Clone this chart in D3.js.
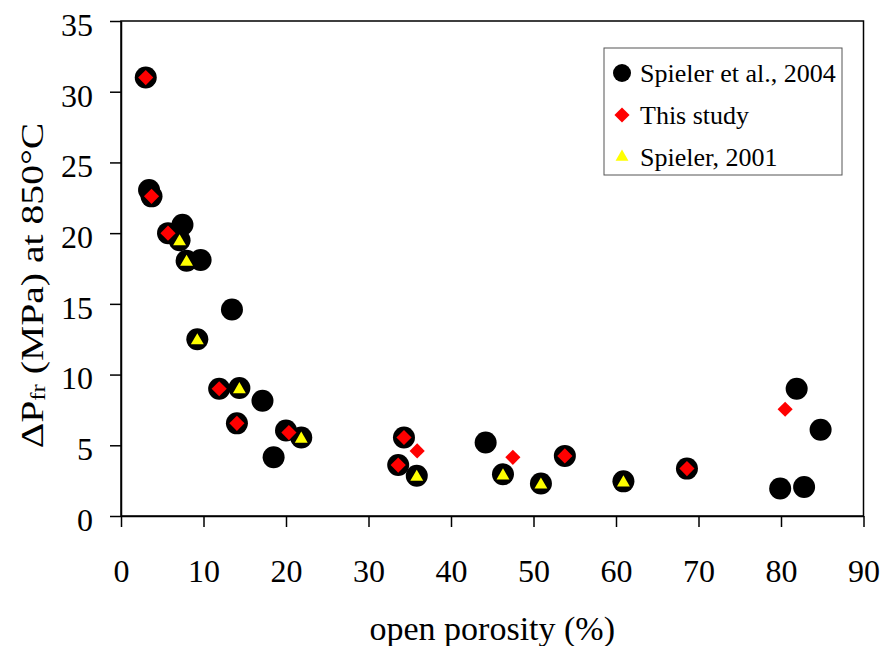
<!DOCTYPE html>
<html>
<head>
    <meta charset="utf-8">
    <script type="text/javascript" src="https://d3js.org/d3.v7.min.js"></script>
    <style>
body { margin: 0; background: #fff; }
text { font-family: "Liberation Serif", "Times New Roman", serif; fill: #000; }
.axis path, .axis line { stroke: #000; stroke-width: 1.5px; }
    </style>
</head>
<body>
	<svg width="884" height="646"></svg>

    <script type="text/javascript">

	// open porosity (%), dPfr (MPa)
	var spieler2004 = [
		[3.0, 31.0], [3.4, 23.05], [3.7, 22.6], [5.7, 20.0], [7.45, 20.6], [7.1, 19.5],
		[7.95, 18.05], [9.65, 18.1], [13.45, 14.6], [9.25, 12.5], [11.9, 9.0], [14.35, 9.05],
		[17.15, 8.15], [14.05, 6.55], [20.0, 6.05], [21.85, 5.55], [18.5, 4.15],
		[34.3, 5.55], [33.6, 3.6], [35.85, 2.85], [44.2, 5.2], [46.3, 2.95], [50.9, 2.3],
		[53.8, 4.25], [60.9, 2.45], [68.6, 3.35], [81.9, 9.0], [84.8, 6.1], [79.9, 1.95], [82.8, 2.05]
	];
	var thisStudy = [
		[3.0, 31.0], [3.7, 22.6], [5.7, 20.0], [11.9, 9.0], [14.05, 6.55], [20.35, 5.9],
		[34.3, 5.55], [35.9, 4.6], [33.6, 3.6], [47.5, 4.15], [53.8, 4.25], [68.6, 3.35], [80.5, 7.55]
	];
	var spieler2001 = [
		[7.1, 19.5], [7.95, 18.05], [9.25, 12.5], [14.35, 9.05], [21.85, 5.55],
		[35.85, 2.85], [46.3, 2.95], [50.9, 2.3], [60.9, 2.45]
	];
	var legendLabels = ["Spieler et al., 2004", "This study", "Spieler, 2001"];
	var xTicks = [0, 10, 20, 30, 40, 50, 60, 70, 80, 90];
	var yTicks = [0, 5, 10, 15, 20, 25, 30, 35];

	var svg = d3.select("svg"),
		margin = {top: 21, right: 20.5, bottom: 130, left: 121},
		width = +svg.attr("width") - margin.left - margin.right,
		height = +svg.attr("height") - margin.top - margin.bottom,
		g = svg.append("g").attr("transform", "translate(" + margin.left + "," + margin.top + ")");

	var x = d3.scaleLinear()
		.domain([0, 90])
		.range([0, width]);

	var y = d3.scaleLinear()
		.domain([0, 35])
		.range([height, 0]);

	// frame (top + right sides)
	g.append("rect")
		.attr("width", width)
		.attr("height", height)
		.attr("fill", "none")
		.attr("stroke", "#000")
		.attr("stroke-width", 1.5);

	var xAxis = g.append("g")
		.attr("class", "axis axis--x")
		.attr("transform", "translate(0," + height + ")")
		.call(d3.axisBottom(x).tickValues(xTicks).tickSize(11).tickPadding(32).tickSizeOuter(0));

	var yAxis = g.append("g")
		.attr("class", "axis axis--y")
		.call(d3.axisLeft(y).tickValues(yTicks).tickSize(11).tickPadding(17).tickSizeOuter(0));

	svg.selectAll(".axis text")
		.attr("font-family", "Liberation Serif")
		.attr("font-size", 32);
	yAxis.selectAll("text").attr("dy", "0.45em");

	// markers
	var diamond = d3.symbol().type(d3.symbolSquare).size(115);
	var triangle = d3.symbol().type(d3.symbolTriangle).size(72);

	g.selectAll(".c2004")
		.data(spieler2004)
		.enter().append("circle")
		.attr("class", "c2004")
		.attr("r", 11)
		.attr("fill", "#000")
		.attr("cx", function(d) { return x(d[0]); })
		.attr("cy", function(d) { return y(d[1]); });

	g.selectAll(".dstudy")
		.data(thisStudy)
		.enter().append("path")
		.attr("class", "dstudy")
		.attr("d", diamond)
		.attr("fill", "#ff0000")
		.attr("transform", function(d) { return "translate(" + x(d[0]) + "," + y(d[1]) + ") rotate(45)"; });

	g.selectAll(".t2001")
		.data(spieler2001)
		.enter().append("path")
		.attr("class", "t2001")
		.attr("d", triangle)
		.attr("fill", "#ffff00")
		.attr("transform", function(d) { return "translate(" + x(d[0]) + "," + y(d[1] - 0.1) + ")"; });

	// legend
	var legend = svg.append("g").attr("transform", "translate(604,48)");
	legend.append("rect")
		.attr("width", 238)
		.attr("height", 127)
		.attr("fill", "#fff")
		.attr("stroke", "#555")
		.attr("stroke-width", 1);

	var rows = legend.selectAll(".row")
		.data(legendLabels)
		.enter().append("g")
		.attr("class", "row")
		.attr("transform", function(d, i) { return "translate(18," + (25 + i * 42) + ")"; });

	rows.filter(function(d, i) { return i == 0; }).append("circle").attr("r", 9).attr("fill", "#000");
	rows.filter(function(d, i) { return i == 1; }).append("path").attr("d", diamond).attr("fill", "#ff0000").attr("transform", "rotate(45)");
	rows.filter(function(d, i) { return i == 2; }).append("path").attr("d", triangle).attr("fill", "#ffff00");

	rows.append("text")
		.attr("x", 18)
		.attr("y", 9)
		.attr("font-size", 26)
		.text(function(d) { return d; });

	// axis titles
	svg.append("text")
		.attr("x", margin.left + width / 2)
		.attr("y", 640)
		.attr("text-anchor", "middle")
		.attr("font-size", 34)
		.text("open porosity (%)");

	var yt = svg.append("text")
		.attr("transform", "translate(43," + (margin.top + height / 2 + 17) + ") rotate(-90) scale(1.24,1)")
		.attr("text-anchor", "middle")
		.attr("font-size", 32);
	yt.append("tspan").text("\u0394P");
	yt.append("tspan").attr("font-size", 20).attr("dy", 2).text("fr");
	yt.append("tspan").attr("dy", -2).text(" (MPa) at 850\u00B0C");

	</script>
</body>
</html>
